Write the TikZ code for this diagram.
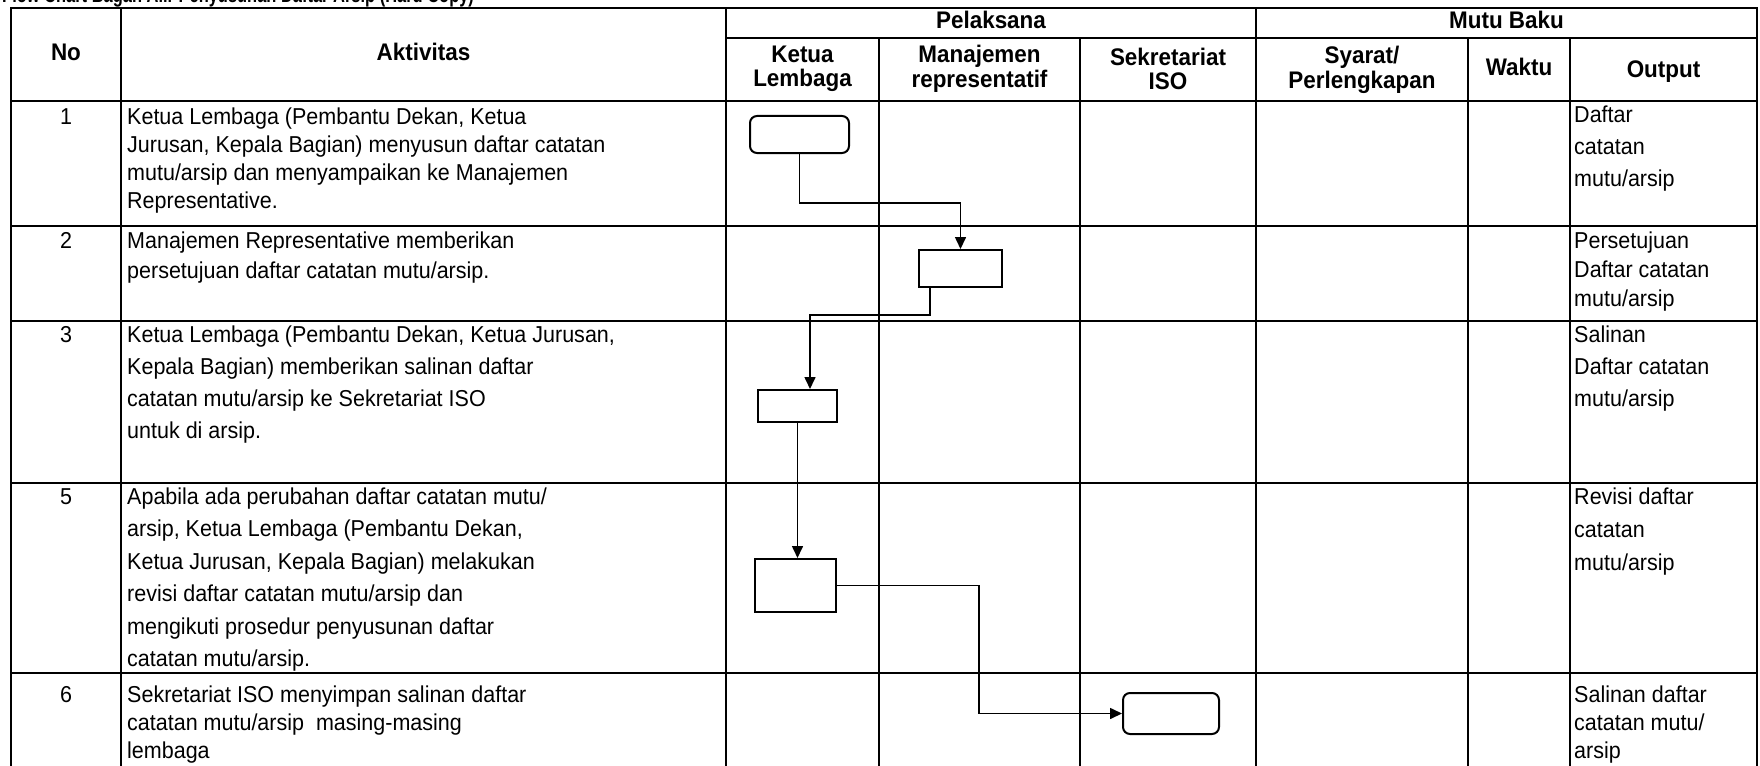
\documentclass[tikz,border=0pt]{standalone}
\usepackage{fontspec}
\setmainfont{Liberation Sans}[FakeStretch=0.935]
\usetikzlibrary{arrows.meta}
\begin{document}
\begin{tikzpicture}[x=1pt,y=-1pt,
  tbl/.style={line width=2.6pt},
  procbox/.style={draw, line width=2pt, inner sep=0pt},
  termbox/.style={procbox, rounded corners=7pt},
  link/.style={line width=1.6pt},
  flow/.style={line width=1.6pt, -{Triangle[length=12pt,width=11pt]}},
  hdr/.style={font=\bfseries\fontsize{24}{24.5}\selectfont, align=center, inner sep=0pt},
  body/.style={anchor=north west, align=left, inner sep=0pt, font=\fontsize{23}{#1}\selectfont},
  body/.default=28,
  num/.style={anchor=base, inner sep=0pt, font=\fontsize{23}{28}\selectfont}]
\useasboundingbox (0,0) rectangle (1760,765);
\fill[white] (0,0) rectangle (1760,765);
% title (cut off at the top)
\node[anchor=base west, inner sep=0pt, font=\bfseries\fontsize{22}{24}\selectfont] (title) at (2,3) {\scalebox{0.8}[1]{Flow Chart Bagan Alir Penyusunan Daftar Arsip (Hard Copy)}};
% table grid
\draw[tbl] (11,767) -- (11,8) -- (1757,8) -- (1757,767);
\foreach \x in {121,726,1256} \draw[tbl] (\x,8) -- (\x,767);
\foreach \x in {879,1080,1468,1570} \draw[tbl] (\x,38) -- (\x,767);
\draw[tbl] (726,38) -- (1757,38);
\foreach \y in {101,226,321,483,673} \draw[tbl] (11,\y) -- (1757,\y);
% header
\node[hdr] (hno) at (66,52) {No};
\node[hdr] (hakt) at (423.5,52) {Aktivitas};
\node[hdr] (hpel) at (991,20) {Pelaksana};
\node[hdr] (hmutu) at (1506.5,20) {Mutu Baku};
\node[hdr] (hketua) at (802.5,69) {Ketua\\Lembaga};
\node[hdr] (hman) at (979.5,69) {Manajemen\\representatif};
\node[hdr] (hsek) at (1168,69) {Sekretariat\\ISO};
\node[hdr] (hsya) at (1362,70) {Syarat/\\Perlengkapan};
\node[hdr] (hwak) at (1519,67) {Waktu};
\node[hdr] (hout) at (1663.5,72) {Output};
% numbers
\node[num] (n1) at (66,124.3) {1};
\node[num] (n2) at (66,248.3) {2};
\node[num] (n3) at (66,342.3) {3};
\node[num] (n5) at (66,504.3) {5};
\node[num] (n6) at (66,702.3) {6};
% activities
\node[body=28] (a1) at (127,107.5) {Ketua Lembaga (Pembantu Dekan, Ketua\\Jurusan, Kepala Bagian) menyusun daftar catatan\\mutu/arsip dan menyampaikan ke Manajemen\\Representative.};
\node[body=30] (a2) at (127,231.5) {Manajemen Representative memberikan\\persetujuan daftar catatan mutu/arsip.};
\node[body=32] (a3) at (127,325.5) {Ketua Lembaga (Pembantu Dekan, Ketua Jurusan,\\Kepala Bagian) memberikan salinan daftar\\catatan mutu/arsip ke Sekretariat ISO\\untuk di arsip.};
\node[body=32.5] (a5) at (127,487.5) {Apabila ada perubahan daftar catatan mutu/\\arsip, Ketua Lembaga (Pembantu Dekan,\\Ketua Jurusan, Kepala Bagian) melakukan\\revisi daftar catatan mutu/arsip dan\\mengikuti prosedur penyusunan daftar\\catatan mutu/arsip.};
\node[body=28] (a6) at (127,685.5) {Sekretariat ISO menyimpan salinan daftar\\catatan mutu/arsip\ \ masing-masing\\lembaga};
% outputs
\node[body=32] (o1) at (1574,105.5) {Daftar\\catatan\\mutu/arsip};
\node[body=29] (o2) at (1574,231.5) {Persetujuan\\Daftar catatan\\mutu/arsip};
\node[body=32] (o3) at (1574,325.5) {Salinan\\Daftar catatan\\mutu/arsip};
\node[body=33] (o5) at (1574,487.5) {Revisi daftar\\catatan\\mutu/arsip};
\node[body=28] (o6) at (1574,685.5) {Salinan daftar\\catatan mutu/\\arsip};
% flow boxes
\node[termbox, minimum width=99pt, minimum height=37pt] (b1) at (799.5,134.5) {};
\node[procbox, minimum width=83pt, minimum height=37pt] (b2) at (960.5,268.5) {};
\node[procbox, minimum width=79pt, minimum height=32pt] (b3) at (797.5,406) {};
\node[procbox, minimum width=81pt, minimum height=53pt] (b4) at (795.5,585.5) {};
\node[termbox, minimum width=96pt, minimum height=41pt] (b5) at (1171,713.5) {};
% connectors
\coordinate (c1) at (960.5,203);
\draw[flow] (b1.south) |- (c1) -- (b2.north);
\coordinate (b2out) at ([xshift=12pt]b2.south west);
\coordinate (c2) at (810,315);
\draw[flow] (b2out) |- (c2) -- (c2 |- b3.north);
\draw[flow] (b3.south) -- (b3.south |- b4.north);
\coordinate (c3) at (979,713.5);
\draw[flow] (b4.east) -| (c3) -- (b5.west);
\end{tikzpicture}
\end{document}
